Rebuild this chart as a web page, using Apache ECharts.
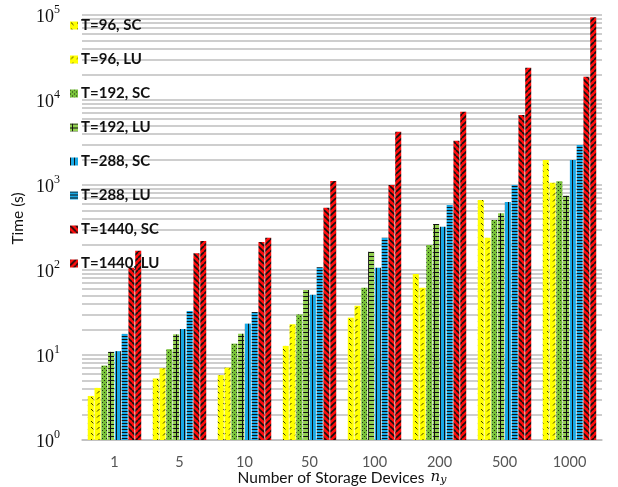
<!DOCTYPE html>
<html>
<head>
<meta charset="utf-8">
<script src="https://cdn.jsdelivr.net/npm/echarts@6/dist/echarts.min.js"></script>
<style>
  html, body { margin: 0; padding: 0; background: #fff; }
  #chart { width: 618px; height: 487px; }
</style>
</head>
<body>
<div id="chart"></div>
<script>
// Number of storage devices (x categories)
const devices = ['1', '5', '10', '50', '100', '200', '500', '1000'];

// Solve times in seconds for each horizon T and method
const t96SC   = [3.3, 5.3, 5.8, 12.8, 27.5, 90, 666, 1970];
const t96LU   = [4.1, 7.0, 7.1, 23, 38, 62, 240, 1065];
const t192SC  = [7.5, 11.7, 13.6, 30, 62, 197, 388, 1110];
const t192LU  = [10.9, 17.5, 17.8, 58, 164, 348, 464, 748];
const t288SC  = [11.1, 20.2, 23.4, 51, 106, 323, 631, 1970];
const t288LU  = [17.7, 33, 32, 108, 240, 582, 1000, 2950];
const t1440SC = [106, 157, 213, 541, 1000, 3320, 6660, 18800];
const t1440LU = [169, 219, 240, 1114, 4236, 7280, 24000, 94000];

const seriesNames = ['T=96, SC', 'T=96, LU', 'T=192, SC', 'T=192, LU',
                     'T=288, SC', 'T=288, LU', 'T=1440, SC', 'T=1440, LU'];
const seriesData = [t96SC, t96LU, t192SC, t192LU, t288SC, t288LU, t1440SC, t1440LU];

// Gridlines drawn at every 2..9 x 10^k between decades
const decades = [1, 10, 100, 1000, 10000];
const minorSteps = [2, 3, 4, 5, 6, 7, 8, 9];

// Small tiled fills for the hatched bars
function pattern(w, h, bg, draw) {
  const c = document.createElement('canvas');
  c.width = w; c.height = h;
  const ctx = c.getContext('2d');
  ctx.fillStyle = bg;
  ctx.fillRect(0, 0, w, h);
  ctx.fillStyle = '#111';
  ctx.strokeStyle = '#111';
  draw(ctx);
  return { image: c, repeat: 'repeat' };
}

const fills = [
  // yellow, small back-slash dashes
  pattern(6, 6, '#ffff00', ctx => {
    ctx.strokeStyle = '#3a3a00'; ctx.lineWidth = 1;
    ctx.beginPath(); ctx.moveTo(1, 1); ctx.lineTo(3.5, 3.5); ctx.stroke();
  }),
  // yellow, small forward-slash dashes
  pattern(6, 6, '#ffff00', ctx => {
    ctx.strokeStyle = '#3a3a00'; ctx.lineWidth = 1;
    ctx.beginPath(); ctx.moveTo(1, 3.5); ctx.lineTo(3.5, 1); ctx.stroke();
  }),
  // green with dark dots
  pattern(4, 4, '#78c23a', ctx => {
    ctx.fillStyle = '#1e2d10';
    ctx.fillRect(0, 0, 1, 1); ctx.fillRect(2, 2, 1, 1);
  }),
  // light green, black grid
  pattern(6, 4, '#92d050', ctx => {
    ctx.fillRect(2, 0, 1, 4);
    ctx.fillRect(0, 0, 6, 1);
  }),
  // blue, vertical black stripes
  pattern(4, 2, '#19a9e6', ctx => {
    ctx.fillRect(0, 0, 1, 2);
  }),
  // blue, horizontal black stripes
  pattern(2, 3, '#19a9e6', ctx => {
    ctx.fillRect(0, 0, 2, 1);
  }),
  // red, back-slash stripes
  pattern(6, 6, '#ff0d0d', ctx => {
    ctx.lineWidth = 1.6;
    for (let k = -6; k <= 6; k += 6) {
      ctx.beginPath(); ctx.moveTo(k, 0); ctx.lineTo(k + 6, 6); ctx.stroke();
    }
  }),
  // red, forward-slash stripes
  pattern(6, 6, '#ff0d0d', ctx => {
    ctx.lineWidth = 1.6;
    for (let k = 0; k <= 12; k += 6) {
      ctx.beginPath(); ctx.moveTo(k, 0); ctx.lineTo(k - 6, 6); ctx.stroke();
    }
  })
];

const gridColor = '#bebebe';
const minorLines = [];
decades.forEach(d => minorSteps.forEach(s => minorLines.push({ yAxis: d * s })));

const series = seriesNames.map((name, i) => {
  const s = {
    name: name,
    type: 'bar',
    data: seriesData[i],
    barWidth: 6,
    barGap: '13%',
    itemStyle: { color: fills[i] },
    animation: false
  };
  if (i === 0) {
    s.markLine = {
      silent: true,
      z: 1,
      symbol: 'none',
      label: { show: false },
      lineStyle: { color: gridColor, width: 1.5, type: 'solid' },
      emphasis: { disabled: true },
      animation: false,
      data: minorLines
    };
  }
  return s;
});

const chart = echarts.init(document.getElementById('chart'), null, { renderer: 'canvas' });
chart.setOption({
  backgroundColor: '#fff',
  animation: false,
  textStyle: { fontFamily: 'Lato' },
  grid: { left: 82, right: 16, top: 15, bottom: 47, containLabel: false, outerBoundsMode: 'none' },
  legend: {
    orient: 'vertical',
    left: 65,
    top: 13,
    itemWidth: 8,
    itemHeight: 8,
    itemGap: 19,
    icon: 'rect',
    data: seriesNames,
    textStyle: { fontFamily: 'Lato', fontWeight: 'bold', fontSize: 15, color: '#111', padding: [0, 0, 0, -2] }
  },
  xAxis: {
    type: 'category',
    data: devices,
    axisTick: { show: false },
    axisLine: { lineStyle: { color: gridColor, width: 1.5 } },
    axisLabel: { color: '#555', fontSize: 14.5, margin: 15, fontFamily: 'Lato' },
    name: '{t|Number of Storage Devices}  {n|n}{s|y}',
    nameLocation: 'middle',
    nameGap: 29,
    nameMoveOverlap: false,
    nameTextStyle: {
      rich: {
        t: { fontFamily: 'Lato', fontSize: 15.5, color: '#111' },
        n: { fontFamily: 'DejaVu Serif', fontStyle: 'italic', fontSize: 15, color: '#111' },
        s: { fontFamily: 'DejaVu Serif', fontStyle: 'italic', fontSize: 11, color: '#111', verticalAlign: 'bottom', padding: [6, 0, 0, 0] }
      }
    }
  },
  yAxis: {
    type: 'log',
    logBase: 10,
    min: 1,
    max: 100000,
    axisLine: { show: false },
    axisTick: { show: false },
    splitLine: { lineStyle: { color: gridColor, width: 1.5 } },
    axisLabel: {
      margin: 22,
      formatter: v => '{b|10}{e|' + Math.round(Math.log10(v)) + '}',
      rich: {
        b: { fontFamily: 'Liberation Serif', fontSize: 18, color: '#111', lineHeight: 22, verticalAlign: 'bottom' },
        e: { fontFamily: 'Liberation Serif', fontSize: 12, color: '#111', lineHeight: 12, verticalAlign: 'top' }
      }
    },
    name: 'Time (s)',
    nameLocation: 'middle',
    nameGap: 56,
    nameRotate: 90,
    nameMoveOverlap: false,
    nameTextStyle: { fontFamily: 'Lato', fontSize: 15.5, color: '#111', padding: [0, 0, 0, 18] }
  },
  series: series
});
</script>
</body>
</html>
